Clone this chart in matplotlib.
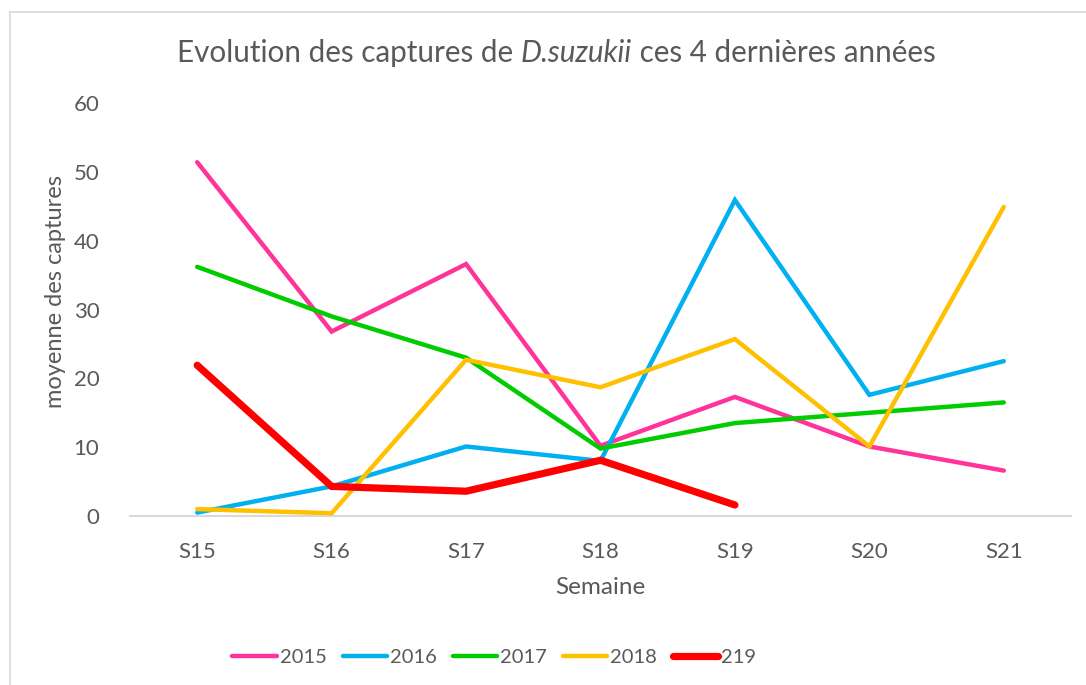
import numpy as np
import matplotlib
matplotlib.use('Agg')
import matplotlib.pyplot as plt
from matplotlib.lines import Line2D

plt.rcParams['font.family'] = ['Lato', 'DejaVu Sans']

weeks = ['S15', 'S16', 'S17', 'S18', 'S19', 'S20', 'S21']
v2015 = [51.4, 26.8, 36.6, 10.2, 17.3, 10.1, 6.6]
v2016 = [0.5, 4.3, 10.1, 8.0, 45.9, 17.6, 22.5]
v2017 = [36.2, 29.0, 23.0, 9.8, 13.5, 15.0, 16.5]
v2018 = [1.0, 0.4, 22.7, 18.7, 25.7, 10.1, 44.9]
v219 = [21.9, 4.3, 3.6, 8.1, 1.6]

series_names = ['2015', '2016', '2017', '2018', '219']
series_vals = [v2015, v2016, v2017, v2018, v219]
colors = ['#FF3399', '#00B0F0', '#00CC00', '#FFC000', '#FF0000']
widths = [3.2, 3.2, 3.2, 3.2, 5.2]

grey = '#595959'

fig = plt.figure(figsize=(10.86, 6.85), dpi=100)
ax = fig.add_axes([130/1086, 169/685, 941/1086, 413/685])

x = np.arange(len(weeks))
for name, vals, c, lw in zip(series_names, series_vals, colors, widths):
    ax.plot(x[:len(vals)], vals, color=c, lw=lw, solid_capstyle='round',
            solid_joinstyle='miter', label=name)

ax.set_xlim(-0.5, 6.5)
ax.set_ylim(0, 60)
ax.set_yticks(np.arange(0, 61, 10))
ax.set_xticks(x)
ax.set_xticklabels(weeks)
for s in ['top', 'right', 'left']:
    ax.spines[s].set_visible(False)
ax.spines['bottom'].set_color('#D9D9D9')
ax.spines['bottom'].set_linewidth(1.5)
ax.spines['bottom'].set_zorder(0)
ax.tick_params(axis='both', length=0, labelsize=16, labelcolor=grey)
ax.tick_params(axis='y', pad=22)
ax.tick_params(axis='x', pad=19)

fig.text(56/1086, 1 - 291/685, 'moyenne des captures', rotation=90,
         ha='center', va='center', fontsize=17, color=grey)
fig.text(600/1086, 1 - 587/685, 'Semaine', ha='center', va='center',
         fontsize=17.5, color=grey)

# title with italic species name
pieces = [('Evolution des captures de ', 'normal'), ('D.suzukii', 'italic'),
          (' ces 4 dernières années', 'normal')]
renderer = fig.canvas.get_renderer()
texts = []
for s, st in pieces:
    t = fig.text(0, 1 - 53/685, s, fontsize=21.3, style=st, color=grey,
                 ha='left', va='center')
    texts.append(t)
ws = [t.get_window_extent(renderer).width for t in texts]
xpos = 556 - sum(ws) / 2
for t, w in zip(texts, ws):
    t.set_x(xpos / 1086)
    xpos += w

handles = [Line2D([], [], color=c, lw=lw, solid_capstyle='round')
           for c, lw in zip(colors, widths)]
fig.legend(handles, series_names, loc='center', bbox_to_anchor=(494/1086, 1 - 657/685),
           ncol=5, frameon=False, fontsize=14.5, labelcolor=grey,
           handlelength=2.2, handletextpad=0.15, columnspacing=0.8)

# chart frame
fig.add_artist(Line2D([10/1086, 10/1086], [0, 1 - 12/685], color='#D9D9D9', lw=1.2))
fig.add_artist(Line2D([10/1086, 1], [1 - 12/685, 1 - 12/685], color='#D9D9D9', lw=1.2))

fig.savefig('out.png', dpi=100, facecolor='white')
